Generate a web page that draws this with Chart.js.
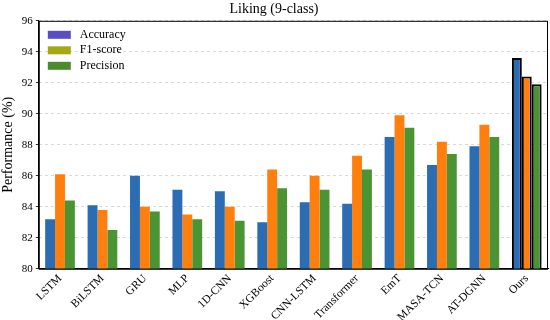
<!DOCTYPE html>
<html>
<head>
<meta charset="utf-8">
<script src="https://cdn.jsdelivr.net/npm/chart.js@4.4.0/dist/chart.umd.min.js"></script>
<style>
  html, body { margin: 0; padding: 0; background: #fff; }
  #wrap { width: 550px; height: 320px; }
</style>
</head>
<body>
<div id="wrap"><canvas id="myChart" width="550" height="320"></canvas></div>
<script>
const categories = ["LSTM", "BiLSTM", "GRU", "MLP", "1D-CNN", "XGBoost", "CNN-LSTM", "Transformer", "EmT", "MASA-TCN", "AT-DGNN", "Ours"];
const accuracy = [83.2, 84.1, 86.0, 85.1, 85.0, 83.0, 84.3, 84.2, 88.5, 86.7, 87.9, 93.6];
const f1score = [86.1, 83.8, 84.0, 83.5, 84.0, 86.4, 86.0, 87.3, 89.9, 88.2, 89.3, 92.4];
const precision = [84.4, 82.5, 83.7, 83.2, 83.1, 85.2, 85.1, 86.4, 89.1, 87.4, 88.5, 91.9];
const seriesNames = ["Accuracy", "F1-score", "Precision"];
const yTicks = [80, 82, 84, 86, 88, 90, 92, 94, 96];

const barColors = ["#2b6cb3", "#ff7f0e", "#4b9433"];
const legendColors = ["#5a4fc2", "#a3a814", "#4d8a2e"];
const font = "'Liberation Serif', 'Times New Roman', serif";

// only the last group ("Ours") gets a thick black outline
const borderW = categories.map((c, i) => i === categories.length - 1 ? 2 : 0);

const makeSet = (i, data) => ({
    label: seriesNames[i],
    data: data,
    backgroundColor: barColors[i],
    borderColor: "#000",
    borderWidth: borderW,
    borderSkipped: "bottom",
    categoryPercentage: 0.7,
    barPercentage: 1.0
});

new Chart(document.getElementById("myChart"), {
    type: "bar",
    data: {
        labels: categories,
        datasets: [makeSet(0, accuracy), makeSet(1, f1score), makeSet(2, precision)]
    },
    options: {
        responsive: false,
        animation: false,
        layout: { padding: { left: 0, right: 2, top: 0, bottom: -4 } },
        plugins: {
            title: {
                display: true,
                text: "Liking (9-class)",
                color: "#000",
                font: { family: font, size: 14, weight: "normal" },
                padding: { top: 1, bottom: 3 }
            },
            legend: { display: false },
            tooltip: { enabled: false }
        },
        scales: {
            x: {
                border: { display: true, color: "#000", width: 1 },
                grid: { display: false, drawTicks: true, tickLength: 3, tickColor: "#000" },
                ticks: {
                    color: "#000",
                    font: { family: font, size: 11.5 },
                    maxRotation: 45,
                    minRotation: 45,
                    padding: 0,
                    autoSkip: false
                }
            },
            y: {
                min: 80,
                max: 96,
                afterBuildTicks: (axis) => { axis.ticks = yTicks.map(v => ({ value: v })); },
                border: { display: true, color: "#000", width: 1, dash: [3, 3] },
                grid: {
                    color: "#d0d0d0",
                    lineWidth: 0.8,
                    tickLength: 3,
                    tickColor: "#000"
                },
                ticks: {
                    color: "#000",
                    font: { family: font, size: 11 },
                    padding: 3
                },
                title: {
                    display: true,
                    text: "Performance (%)",
                    color: "#000",
                    font: { family: font, size: 14 },
                    padding: { top: 0, bottom: 2 }
                }
            }
        }
    },
    plugins: [{
        // solid frame round the plot area plus the legend in its top-left corner
        id: "frame",
        afterDatasetsDraw(chart) {
            const { ctx, chartArea: a } = chart;
            ctx.save();
            ctx.setLineDash([]);
            ctx.strokeStyle = "#000";
            ctx.lineWidth = 1;
            ctx.strokeRect(a.left + 0.5, a.top + 0.5, a.right - a.left - 1, a.bottom - a.top);

            ctx.font = "12px " + font;
            ctx.textBaseline = "middle";
            seriesNames.forEach((n, i) => {
                const y = a.top + 14 + i * 15.5;
                ctx.fillStyle = legendColors[i];
                ctx.fillRect(a.left + 9, y - 4, 23, 8);
                ctx.fillStyle = "#000";
                ctx.fillText(n, a.left + 41, y);
            });
            ctx.restore();
        }
    }]
});
</script>
</body>
</html>
